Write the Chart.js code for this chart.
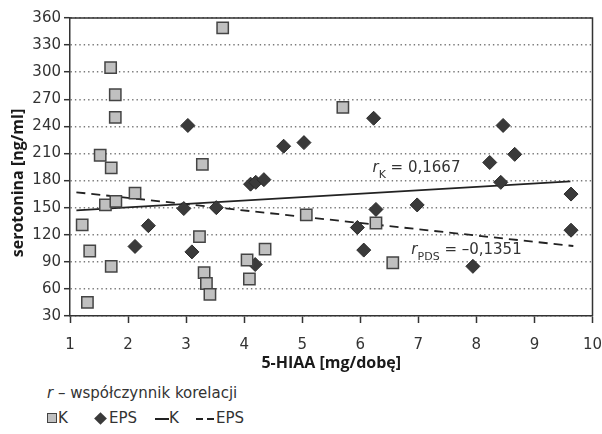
<!DOCTYPE html>
<html>
<head>
<meta charset="utf-8">
<script src="https://cdn.jsdelivr.net/npm/chart.js@4.4.1/dist/chart.umd.min.js"></script>
<style>
  body { margin: 0; background: #fff; font-family: "DejaVu Sans", sans-serif; color: #333; }
  #wrap { position: relative; width: 602px; height: 434px; overflow: hidden; }
  #chart { position: absolute; left: 0; top: 0; }
  .txt { position: absolute; font-size: 15px; line-height: 20px; white-space: nowrap; }
  .sym { position: absolute; box-sizing: border-box; }
</style>
</head>
<body>
<div id="wrap">
  <canvas id="chart" width="602" height="380"></canvas>

  <div class="txt" style="left:47px; top:383px;"><i>r</i> – współczynnik korelacji</div>

  <div class="sym" style="left:47px; top:413px; width:10px; height:10px; background:#c0c0c0; border:1px solid #444;"></div>
  <div class="txt" style="left:58px; top:408px;">K</div>
  <div class="sym" style="left:96px; top:414px; width:9px; height:9px; background:#3a3a3a; transform:rotate(45deg);"></div>
  <div class="txt" style="left:109px; top:408px;">EPS</div>
  <div class="sym" style="left:155px; top:418px; width:14px; height:2px; background:#222;"></div>
  <div class="txt" style="left:169px; top:408px;">K</div>
  <div class="sym" style="left:196px; top:418px; width:7px; height:2px; background:#222;"></div>
  <div class="sym" style="left:207px; top:418px; width:7px; height:2px; background:#222;"></div>
  <div class="txt" style="left:216px; top:408px;">EPS</div>
</div>

<script>
// group K (control)
var kX = [3.63, 1.70, 1.78, 1.78, 1.52, 1.71, 3.28, 2.12, 1.61, 1.79, 1.21, 1.34, 1.71,
          1.30, 3.23, 3.31, 3.35, 3.41, 4.05, 4.09, 4.36, 5.70, 5.07, 6.27, 6.56];
var kY = [349, 305, 275, 250, 208, 194, 198, 166, 153, 157, 131, 102, 85,
          45, 118, 78, 66, 54, 92, 71, 104, 261, 142, 133, 89];

// group EPS
var epsX = [3.03, 4.68, 4.11, 4.20, 4.34, 2.96, 3.52, 2.35, 2.12, 3.10, 4.19, 5.03, 6.23,
            8.46, 8.66, 8.23, 8.42, 9.63, 9.63, 6.27, 6.98, 5.95, 6.06, 7.94];
var epsY = [241, 218, 176, 178, 181, 149, 150, 130, 107, 101, 87, 222, 249,
            241, 209, 200, 178, 165, 125, 148, 153, 128, 103, 85];

// regression lines (end points)
var kFitX = [1.11, 9.62];
var kFitY = [147, 179];
var epsFitX = [1.11, 9.67];
var epsFitY = [167, 107.5];

var xTicks = [1, 2, 3, 4, 5, 6, 7, 8, 9, 10];
var yTicks = [30, 60, 90, 120, 150, 180, 210, 240, 270, 300, 330, 360];

// correlation labels: [x, y, subscript, rest]
var rLabels = [
    [6.21, 190, "K", " = 0,1667"],
    [6.88, 99, "PDS", " = –0,1351"]
];

var yTitle = 'serotonina [ng/ml]';

function pts(xs, ys) {
    return xs.map(function(x, i) { return { x: x, y: ys[i] }; });
}

var font = '"DejaVu Sans", sans-serif';
var titleFont = '"Open Sans", sans-serif';

var framePlugin = {
    id: 'frame',
    beforeDatasetsDraw: function(chart) {
        var a = chart.chartArea, ctx = chart.ctx;
        ctx.save();
        ctx.strokeStyle = '#333';
        ctx.lineWidth = 1.5;
        ctx.beginPath();
        ctx.moveTo(a.left, a.top);
        ctx.lineTo(a.right, a.top);
        ctx.lineTo(a.right, a.bottom);
        ctx.stroke();
        ctx.restore();
    },
    afterDraw: function(chart) {
        var ctx = chart.ctx, sx = chart.scales.x, sy = chart.scales.y;
        ctx.save();
        ctx.fillStyle = '#333';
        ctx.textBaseline = 'alphabetic';
        rLabels.forEach(function(l) {
            var x = sx.getPixelForValue(l[0]), y = sy.getPixelForValue(l[1]);
            ctx.font = 'italic 15px ' + font;
            ctx.fillText('r', x, y);
            var w = ctx.measureText('r').width;
            ctx.font = '11px ' + font;
            ctx.fillText(l[2], x + w, y + 6);
            w += ctx.measureText(l[2]).width;
            ctx.font = '15px ' + font;
            ctx.fillText(l[3], x + w, y);
        });

        // y axis title, sits a bit below the middle like in the source
        ctx.translate(18, (chart.chartArea.top + chart.chartArea.bottom) / 2 + 16);
        ctx.rotate(-Math.PI / 2);
        ctx.font = 'bold 16px ' + titleFont;
        ctx.fillStyle = '#1a1a1a';
        ctx.textAlign = 'center';
        ctx.textBaseline = 'middle';
        ctx.fillText(yTitle, 0, 0);
        ctx.restore();
    }
};

var ctx = document.getElementById('chart');

var myChart = new Chart(ctx, {
    type: 'scatter',
    data: {
        datasets: [
            {
                label: 'K',
                data: pts(kX, kY),
                pointStyle: 'rect',
                pointRadius: 8,
                pointHoverRadius: 8,
                backgroundColor: '#c0c0c0',
                borderColor: '#444',
                borderWidth: 1.5
            },
            {
                label: 'EPS',
                data: pts(epsX, epsY),
                pointStyle: 'rectRot',
                pointRadius: 7,
                pointHoverRadius: 7,
                backgroundColor: '#3a3a3a',
                borderColor: '#2a2a2a',
                borderWidth: 1
            },
            {
                label: 'K fit',
                data: pts(kFitX, kFitY),
                showLine: true,
                pointRadius: 0,
                borderColor: '#222',
                borderWidth: 1.8,
                fill: false
            },
            {
                label: 'EPS fit',
                data: pts(epsFitX, epsFitY),
                showLine: true,
                pointRadius: 0,
                borderColor: '#222',
                borderWidth: 1.8,
                borderDash: [9, 6],
                fill: false
            }
        ]
    },
    options: {
        responsive: false,
        animation: false,
        devicePixelRatio: 1,
        layout: { padding: { top: 18, right: 9, left: 0, bottom: 7 } },
        plugins: {
            legend: { display: false },
            tooltip: { enabled: false }
        },
        scales: {
            x: {
                type: 'linear',
                min: 1,
                max: 10,
                afterBuildTicks: function(s) { s.ticks = xTicks.map(function(v) { return { value: v }; }); },
                afterFit: function(s) { s.height = 57; s.paddingLeft = 0; s.paddingRight = 0; },
                ticks: { color: '#333', font: { family: font, size: 15 }, padding: 13 },
                grid: { drawOnChartArea: false, drawTicks: true, tickLength: 7, tickColor: '#333', tickWidth: 1.5 },
                border: { color: '#333', width: 1.5 },
                title: {
                    display: true,
                    text: '5-HIAA [mg/dobę]',
                    color: '#1a1a1a',
                    font: { family: titleFont, size: 16, weight: 'bold' },
                    padding: { top: 1, bottom: 0 }
                }
            },
            y: {
                type: 'linear',
                min: 30,
                max: 360,
                afterBuildTicks: function(s) { s.ticks = yTicks.map(function(v) { return { value: v }; }); },
                afterFit: function(s) { s.width = 70; },
                ticks: { color: '#333', font: { family: font, size: 15 }, padding: 3 },
                grid: {
                    color: '#7a7a7a',
                    lineWidth: 1.4,
                    drawTicks: true,
                    tickLength: 6,
                    tickColor: '#333',
                    tickWidth: 1.5,
                    tickBorderDash: []
                },
                border: { color: '#333', width: 1.5, dash: [1.4, 3] }
            }
        }
    },
    plugins: [framePlugin]
});
</script>
</body>
</html>
